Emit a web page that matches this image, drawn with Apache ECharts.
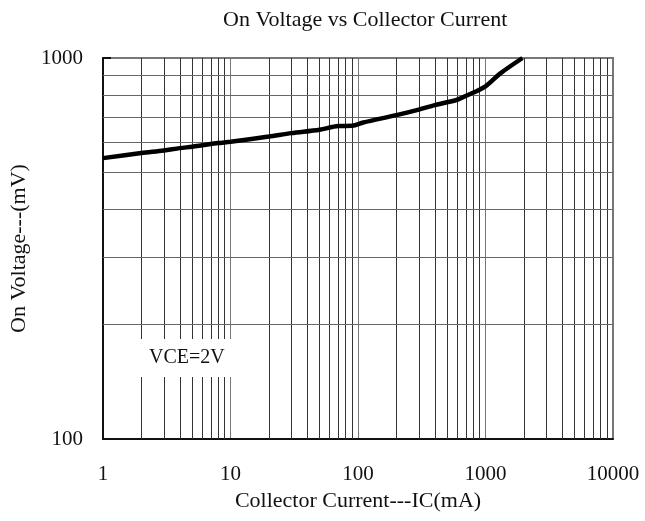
<!DOCTYPE html>
<html>
<head>
<meta charset="utf-8">
<script src="https://cdn.jsdelivr.net/npm/echarts@6/dist/echarts.min.js"></script>
<style>html,body{margin:0;padding:0;background:#fff}#c{width:645px;height:521px}</style>
</head>
<body>
<div id="c"></div>
<script>
// Data
var currentMA = [1, 2, 3, 4, 5, 6, 8, 10, 20, 30, 50, 70, 90, 110, 200, 300, 400, 600, 700, 1000, 1300, 1950];
var voltageMV = [546, 563, 572, 580, 585, 590, 598, 603, 622, 635, 648, 663, 664, 677, 708, 732, 752, 777, 795, 843, 910, 1000];
var xMinorGrid = [2,3,4,5,6,7,8,9, 20,30,40,50,60,70,80,90, 200,300,400,500,600,700,800,900, 2000,3000,4000,5000,6000,7000,8000,9000];
var yMinorGrid = [200, 300, 400, 500, 600, 700, 800, 900];
var xTickLabels = ['1', '10', '100', '1000', '10000'];
var yTickLabels = ['100', '1000'];

var FONT = 'Liberation Serif';
var chart = echarts.init(document.getElementById('c'), null, {renderer: 'canvas'});
var curve = currentMA.map(function (x, i) { return [x, voltageMV[i]]; });

var gridLines = xMinorGrid.map(function (v) { return {xAxis: v, lineStyle: {color: '#333', width: 1, type: 'solid'}}; })
  .concat(yMinorGrid.map(function (v) { return {yAxis: v, lineStyle: {color: '#666', width: 1, type: 'solid'}}; }));

chart.setOption({
  animation: false,
  backgroundColor: '#fff',
  title: {
    text: 'On Voltage vs Collector Current',
    left: 218, top: 4,
    textStyle: {fontFamily: FONT, fontSize: 22, fontWeight: 'normal', color: '#111'}
  },
  grid: {left: 103, right: 32, top: 58, bottom: 82, show: true, borderColor: '#777', borderWidth: 2, backgroundColor: '#fff'},
  xAxis: {
    type: 'log', logBase: 10, min: 1, max: 10000,
    name: 'Collector Current---IC(mA)', nameLocation: 'middle', nameGap: 47,
    nameTextStyle: {fontFamily: FONT, fontSize: 22, color: '#111'},
    axisLine: {show: true, lineStyle: {color: '#111', width: 2}},
    axisTick: {show: false},
    axisLabel: {margin: 25, fontFamily: FONT, fontSize: 21, color: '#111',
      formatter: function (v) { var s = String(Math.round(v)); return xTickLabels.indexOf(s) >= 0 ? s : ''; }},
    splitLine: {show: true, lineStyle: {color: '#777', width: 1}}
  },
  yAxis: {
    type: 'log', logBase: 10, min: 100, max: 1000,
    name: 'On Voltage---(mV)', nameLocation: 'middle', nameGap: 72, nameRotate: 90,
    nameTextStyle: {fontFamily: FONT, fontSize: 22, color: '#111'},
    axisLine: {show: true, lineStyle: {color: '#111', width: 2}},
    axisTick: {show: true, inside: true, length: 8, lineStyle: {color: '#111', width: 2}},
    axisLabel: {margin: 20, fontFamily: FONT, fontSize: 21, color: '#111',
      formatter: function (v) { var s = String(Math.round(v)); return yTickLabels.indexOf(s) >= 0 ? s : ''; }},
    splitLine: {show: false}
  },
  series: [
    {
      type: 'line', z: 1, data: [[1, 100]], showSymbol: false, symbol: 'none', silent: true,
      lineStyle: {opacity: 0},
      markLine: {silent: true, symbol: ['none', 'none'], label: {show: false}, animation: false, data: gridLines}
    },
    {
      type: 'line', z: 5, data: curve, showSymbol: false, symbol: 'none', smooth: 0.3,
      lineStyle: {color: '#000', width: 4.5}
    }
  ],
  graphic: [{
    type: 'text', z: 100, x: 135, y: 339,
    style: {text: 'VCE=2V', font: '20px "Liberation Serif"', fill: '#111', backgroundColor: '#fff', padding: [9, 14, 9, 14], align: 'left', verticalAlign: 'top'}
  }]
});
</script>
</body>
</html>
